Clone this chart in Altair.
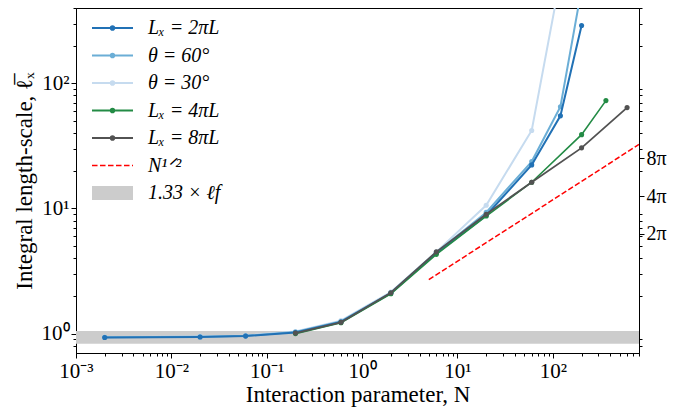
import math
import altair as alt
import pandas as pd

# ---------------- data ----------------
N_2pi = [0.002, 0.02, 0.06, 0.2, 0.6, 2, 6, 20, 60, 120, 200]
L_2pi = [0.93, 0.94, 0.955, 1.02, 1.24, 2.1, 4.4, 8.8, 22.3, 55, 290]

N_t60 = [0.002, 0.02, 0.06, 0.2, 0.6, 2, 6, 20, 60, 120, 200]
L_t60 = [0.935, 0.945, 0.96, 1.03, 1.25, 2.12, 4.45, 9.3, 23.7, 65, 570]

N_t30 = [0.002, 0.02, 0.06, 0.2, 0.6, 2, 6, 20, 60, 120]
L_t30 = [0.94, 0.95, 0.965, 1.04, 1.27, 2.15, 4.5, 10.6, 42, 700]

N_4pi = [0.2, 0.6, 2, 6, 20, 60, 200, 360]
L_4pi = [1.0, 1.22, 2.08, 4.3, 8.7, 16.2, 38.9, 72.8]

N_8pi = [0.2, 0.6, 2, 6, 20, 60, 200, 600]
L_8pi = [1.01, 1.23, 2.12, 4.5, 9.0, 16.2, 30.5, 64]

N_ref = [5, 800]
L_ref = [2.7, 32.5]

band_lo = [0.83]
band_hi = [1.05]

series_names = ["Lₓ = 2πL", "θ =  60°", "θ =  30°", "Lₓ = 4πL", "Lₓ = 8πL", "N¹ᐟ²", "1.33 × ℓf"]
series_colors = ["#2171b5", "#6baed6", "#c6dbef", "#238b45", "#525252", "#ff0000", "#cccccc"]

X_DOM = [1e-3, 800]
Y_DOM = [0.7, 400]

x_decades = [0.001, 0.01, 0.1, 1, 10, 100]
x_decade_labels = ["10⁻³", "10⁻²", "10⁻¹", "10⁰", "10¹", "10²"]
y_decades = [1, 10, 100]
y_decade_labels = ["10⁰", "10¹", "10²"]
right_major = [2 * math.pi, 4 * math.pi, 8 * math.pi]
right_labels = ["2π", "4π", "8π"]

# ---------------- tick lists ----------------
x_ticks = []
for d in x_decades:
    for m in range(1, 10):
        v = round(m * d, 6)
        if v <= X_DOM[1]:
            x_ticks.append(v)
y_minor = [0.8, 0.9] + [float(m) for m in range(2, 10)] + [float(m * 10) for m in range(2, 10)] + [200.0, 300.0, 400.0]
y_ticks = sorted(y_minor + y_decades)
right_ticks = sorted(y_minor + right_major)


def label_expr(values, labels, tol=False):
    expr = "''"
    for v, l in zip(reversed(values), reversed(labels)):
        test = f"abs(datum.value - {v!r}) < 1e-6" if tol else f"datum.value == {v!r}"
        expr = f"({test}) ? '{l}' : {expr}"
    return expr


def major_test(values):
    return " || ".join(f"abs(datum.value - {v!r}) < 1e-6 * {v!r}" for v in values)


FONT = "Liberation Serif"

xaxis = alt.Axis(values=x_ticks, labelExpr=label_expr(x_decades, x_decade_labels),
                 tickSize={"condition": {"test": major_test(x_decades), "value": 5}, "value": 3},
                 title="Interaction parameter, N", titleFont=FONT, titleFontSize=23,
                 titleFontWeight="normal", titlePadding=2,
                 labelFont=FONT, labelFontSize=21, labelFlush=False, labelOverlap=False,
                 labelPadding=2, grid=False)
yaxis = alt.Axis(values=y_ticks, labelExpr=label_expr(y_decades, y_decade_labels),
                 tickSize={"condition": {"test": major_test(y_decades), "value": 5}, "value": 3},
                 title="Integral length-scale, ℓ̅ₓ", titleFont=FONT, titleFontSize=23,
                 titleFontWeight="normal", titlePadding=5,
                 labelFont=FONT, labelFontSize=21, labelFlush=False, labelOverlap=False,
                 labelPadding=2, grid=False)
raxis = alt.Axis(orient="right", values=right_ticks, labelExpr=label_expr(right_major, right_labels, tol=True),
                 tickSize={"condition": {"test": major_test(right_major), "value": 5}, "value": 3},
                 title=None, labelFont=FONT, labelFontSize=20, labelFlush=False,
                 labelOverlap=False, labelPadding=2, grid=False)

xscale = alt.Scale(type="log", domain=X_DOM, nice=False)
yscale = alt.Scale(type="log", domain=Y_DOM, nice=False)

# ---------------- layers ----------------
band_df = pd.DataFrame({"x0": [X_DOM[0]], "x1": [X_DOM[1]], "lo": band_lo, "hi": band_hi})
band = alt.Chart(band_df).mark_rect(color="#cccccc", clip=True).encode(
    x=alt.X("x0:Q", scale=xscale, axis=xaxis), x2="x1:Q",
    y=alt.Y("lo:Q", scale=yscale, axis=yaxis), y2="hi:Q")


def series_layers(N, L, color, sw):
    df = pd.DataFrame({"N": N, "L": L})
    base = alt.Chart(df).encode(
        x=alt.X("N:Q", scale=xscale, axis=xaxis),
        y=alt.Y("L:Q", scale=yscale, axis=yaxis))
    return [base.mark_line(color=color, strokeWidth=sw, clip=True),
            base.mark_circle(color=color, size=26, opacity=1, clip=True)]


layers = [band]
layers += series_layers(N_t30, L_t30, series_colors[2], 2)
layers += series_layers(N_t60, L_t60, series_colors[1], 2)
layers += series_layers(N_2pi, L_2pi, series_colors[0], 2)
layers += series_layers(N_4pi, L_4pi, series_colors[3], 1.6)
layers += series_layers(N_8pi, L_8pi, series_colors[4], 1.8)

ref_df = pd.DataFrame({"N": N_ref, "L": L_ref})
ref = alt.Chart(ref_df).mark_line(color="#ff0000", strokeWidth=1.5, strokeDash=[5.5, 2.4], clip=True).encode(
    x=alt.X("N:Q", scale=xscale, axis=xaxis), y=alt.Y("L:Q", scale=yscale, axis=yaxis))
layers.append(ref)

# legend symbols (paths in unit box, filled)
dot_line = ("M-1,-0.05H1V0.05H-1Z "
            "M-0.14,0A0.14,0.14 0 1,1 0.14,0A0.14,0.14 0 1,1 -0.14,0Z")
dash = " ".join(f"M{a:.2f},-0.037H{b:.2f}V0.037H{a:.2f}Z" for a, b in
                [(-1.0, -0.73), (-0.61, -0.34), (-0.22, 0.05), (0.17, 0.44), (0.56, 0.83), (0.95, 1.0)])
rect = "M-1,-0.34H1V0.34H-1Z"
legend_paths = [dot_line] * 5 + [dash, rect]

leg = alt.Legend(title=None, orient="none", legendX=16, legendY=10, padding=0,
                 symbolSize=1681, clipHeight=20, rowPadding=7.5, symbolStrokeWidth=0,
                 labelFont=FONT, labelFontSize=20, labelFontStyle="italic",
                 labelOffset=15, labelLimit=300)
leg_df = pd.DataFrame({"series": series_names})
legend_layer = alt.Chart(leg_df).mark_point(filled=True, opacity=1).encode(
    fill=alt.Fill("series:N", scale=alt.Scale(domain=series_names, range=series_colors), legend=leg),
    shape=alt.Shape("series:N", scale=alt.Scale(domain=series_names, range=legend_paths), legend=leg),
).transform_filter("false")
layers.append(legend_layer)

inner = alt.layer(*layers)

right_df = pd.DataFrame({"v": [1.0]})
right = alt.Chart(right_df).mark_point(opacity=0).encode(
    y=alt.Y("v:Q", scale=yscale, axis=raxis))

chart = alt.layer(inner, right).resolve_scale(y="independent").properties(
    width=563, height=345,
    autosize=alt.AutoSizeParams(type="none"),
    padding={"left": 68, "top": 0, "right": 47, "bottom": 58},
).configure_view(stroke="black", strokeWidth=1).configure_axis(
    domainColor="black", tickColor="black", labelColor="black", titleColor="black",
    domainWidth=1, tickWidth=1)

chart.save("out.html", embed_options={"renderer": "svg", "actions": False})
